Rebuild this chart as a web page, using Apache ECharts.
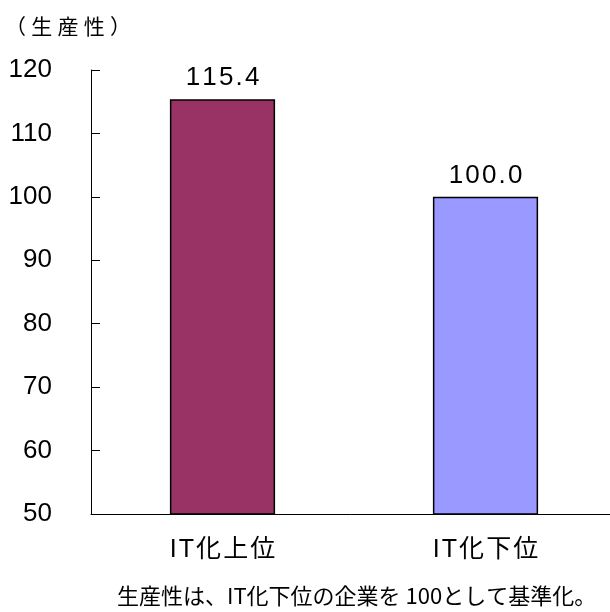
<!DOCTYPE html>
<html>
<head>
<meta charset="utf-8">
<script src="https://cdn.jsdelivr.net/npm/echarts@6/dist/echarts.min.js"></script>
<style>
html,body{margin:0;padding:0;background:#fff;}
#chart{width:610px;height:612px;}
</style>
</head>
<body>
<div id="chart"></div>
<script>
var categories = ['IT化上位', 'IT化下位'];
var values = [115.4, 100.0];
var barColors = ['#993366', '#9999FF'];
var yTicks = { min: 50, max: 120, interval: 10 };
var yAxisTitle = '（生産性）';
var footnote = '生産性は、IT化下位の企業を 100として基準化。';

function spaced(s, sp) { return s.split('').join(sp); }

var chart = echarts.init(document.getElementById('chart'));
chart.setOption({
  animation: false,
  backgroundColor: '#ffffff',
  textStyle: { fontFamily: '"Liberation Sans", "Noto Sans CJK JP", sans-serif' },
  grid: { left: 91, top: 70, width: 526, height: 444, containLabel: false, outerBoundsMode: 'none' },
  graphic: [
    { type: 'text', left: 5, top: 16,
      style: { text: spaced(yAxisTitle, '\u2005'), fill: '#000', font: '21px "Noto Sans CJK JP", sans-serif' } },
    { type: 'text', left: 117, top: 585,
      style: { text: footnote, fill: '#000', font: '22px "Noto Sans CJK JP", sans-serif' } }
  ],
  xAxis: {
    type: 'category',
    data: categories,
    axisLine: { lineStyle: { color: '#000', width: 1 } },
    axisTick: { inside: true, length: 8, lineStyle: { color: '#000' } },
    axisLabel: {
      margin: 24, color: '#000', fontSize: 25,
      fontFamily: '"Liberation Sans", "Noto Sans CJK JP", sans-serif',
      formatter: function (v) { return spaced(v, '\u200A'); }
    }
  },
  yAxis: {
    type: 'value',
    min: yTicks.min, max: yTicks.max, interval: yTicks.interval,
    splitLine: { show: false },
    axisLine: { show: true, lineStyle: { color: '#000', width: 1 } },
    axisTick: { show: true, inside: true, length: 9, lineStyle: { color: '#000' } },
    axisLabel: { margin: 39, color: '#000', fontSize: 26, fontFamily: '"Liberation Sans", sans-serif' }
  },
  series: [{
    type: 'bar',
    barWidth: '40%',
    data: values.map(function (v, i) {
      return { value: v, itemStyle: { color: barColors[i], borderColor: '#000', borderWidth: 1.5 } };
    }),
    label: {
      show: true, position: 'top', distance: 8, color: '#000', fontSize: 26,
      fontFamily: '"Liberation Sans", sans-serif',
      formatter: function (p) { return spaced(p.value.toFixed(1), '\u200A'); }
    }
  }]
});
</script>
</body>
</html>
